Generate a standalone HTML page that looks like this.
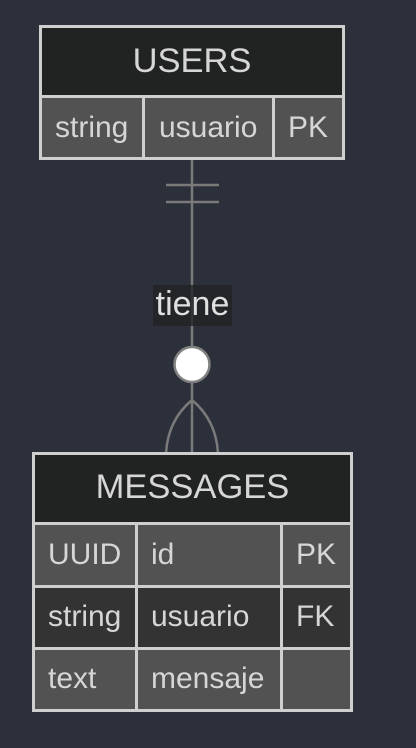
<!DOCTYPE html>
<html><head><style>html,body{margin:0;padding:0;background:#2c303b;}svg{display:block}</style></head>
<body>
<svg width="416" height="748" xmlns="http://www.w3.org/2000/svg" font-family="Liberation Sans, sans-serif">
<rect width="416" height="748" fill="#2c303b"/>
<g stroke="#7a7a7a" stroke-width="2.5" fill="none">
<line x1="192" y1="158" x2="192" y2="453"/>
<line x1="166" y1="185" x2="219" y2="185"/>
<line x1="166" y1="202" x2="219" y2="202"/>
<path d="M192 400 Q168 420 166 453"/>
<path d="M192 400 Q216 420 218 453"/>
</g>
<rect x="153" y="285" width="79" height="41" fill="#222326" opacity="0.8"/>
<text x="192.5" y="315" font-size="34" fill="#e0e0e0" text-anchor="middle">tiene</text>
<circle cx="192" cy="364.5" r="17.5" fill="#fff" stroke="#808080" stroke-width="2.5"/>
<g stroke="#cfcfcf" stroke-width="3">
<rect x="40.5" y="26.5" width="303" height="70" fill="#212322"/>
<rect x="40.5" y="96.5" width="103" height="62" fill="#525252"/>
<rect x="143.5" y="96.5" width="130" height="62" fill="#525252"/>
<rect x="273.5" y="96.5" width="70" height="62" fill="#525252"/>
</g>
<g fill="#d6d6d6" font-size="30">
<text x="192" y="72" text-anchor="middle" font-size="34.5">USERS</text>
<text x="55" y="137">string</text>
<text x="159" y="137">usuario</text>
<text x="288" y="137">PK</text>
</g>
<g stroke="#cfcfcf" stroke-width="3">
<rect x="33.5" y="453.5" width="318" height="70" fill="#212322"/>
<rect x="33.5" y="523.5" width="103" height="63" fill="#525252"/>
<rect x="136.5" y="523.5" width="145" height="63" fill="#525252"/>
<rect x="281.5" y="523.5" width="70" height="63" fill="#525252"/>
<rect x="33.5" y="586.5" width="103" height="62" fill="#333333"/>
<rect x="136.5" y="586.5" width="145" height="62" fill="#333333"/>
<rect x="281.5" y="586.5" width="70" height="62" fill="#333333"/>
<rect x="33.5" y="648.5" width="103" height="62" fill="#525252"/>
<rect x="136.5" y="648.5" width="145" height="62" fill="#525252"/>
<rect x="281.5" y="648.5" width="70" height="62" fill="#525252"/>
</g>
<g fill="#d6d6d6" font-size="30">
<text x="192.5" y="498" text-anchor="middle" font-size="34.5">MESSAGES</text>
<text x="48" y="564">UUID</text>
<text x="151" y="564">id</text>
<text x="296" y="564">PK</text>
<text x="48" y="626">string</text>
<text x="151" y="626">usuario</text>
<text x="296" y="626">FK</text>
<text x="48" y="688">text</text>
<text x="151" y="688">mensaje</text>
</g>
</svg>
</body></html>
